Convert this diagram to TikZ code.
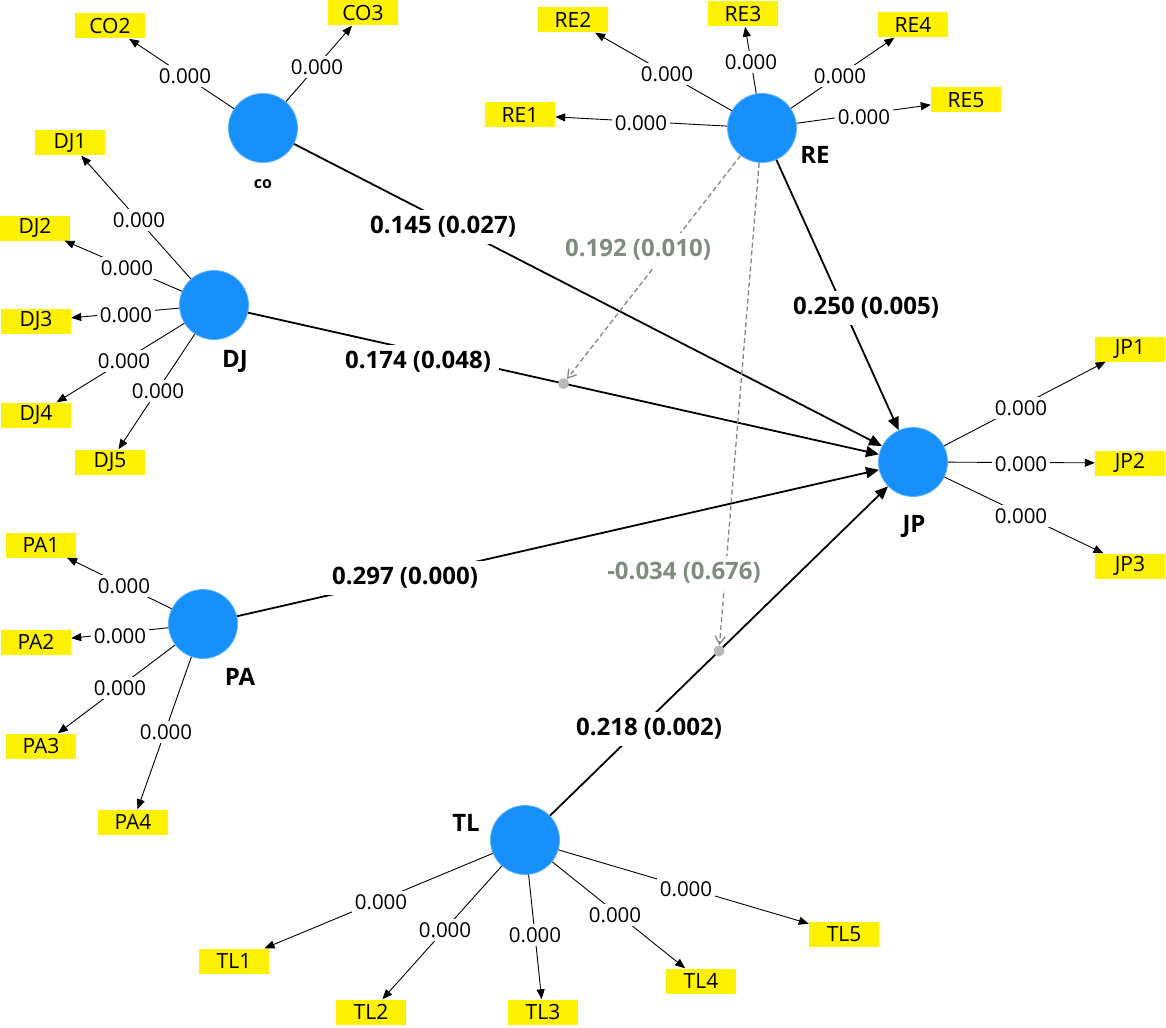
\documentclass[tikz,border=0pt]{standalone}
\usepackage{fontspec}
\setmainfont{Open Sans}
\usetikzlibrary{arrows.meta,calc}
\definecolor{lvblue}{RGB}{24,144,252}
\definecolor{lvedge}{RGB}{95,178,255}
\definecolor{indyel}{RGB}{255,242,0}
\definecolor{modgray}{RGB}{127,140,127}
\definecolor{dashgray}{RGB}{135,135,135}
\definecolor{dotgray}{RGB}{185,185,185}
\begin{document}
\begin{tikzpicture}[x=1pt,y=-1pt,
 lv/.style={circle,fill=lvblue,draw=lvedge,line width=0.8pt,minimum size=69pt,inner sep=0pt},
 ind/.style={fill=indyel,minimum width=70pt,minimum height=25pt,inner sep=0pt,font=\fontsize{21}{21}\selectfont},
 lvname/.style={font=\fontsize{24}{24}\selectfont\bfseries},
 load/.style={draw=black,line width=0.9pt,-{Triangle[length=10pt,width=8pt]}},
 loadlab/.style={fill=white,inner sep=3pt,font=\fontsize{20.5}{21}\selectfont},
 pathline/.style={draw=black,line width=1.8pt,-{Triangle[length=13pt,width=11pt]}},
 pathlab/.style={fill=white,inner xsep=8pt,inner ysep=6pt,font=\fontsize{24}{24}\selectfont\bfseries},
 modline/.style={draw=dashgray,line width=1.3pt,dash pattern=on 5pt off 3pt,-{Straight Barb[length=8pt,width=10pt]}},
 modlab/.style={pathlab,text=modgray},
 moddot/.style={circle,fill=dotgray,minimum size=11pt,inner sep=0pt}
]
\fill[white] (0,0) rectangle (1166,1027);
\useasboundingbox (0,0) rectangle (1166,1027);

% latent variables
\node[lv] (CO) at (263,128) {};
\node[lv] (RE) at (762,128) {};
\node[lv] (DJ) at (214,305) {};
\node[lv] (JP) at (913,462) {};
\node[lv] (PA) at (203,624) {};
\node[lv] (TL) at (525,840) {};

\node[font=\fontsize{16}{16}\selectfont\bfseries] (nCO) at (263,184) {co};
\node[lvname] (nRE) at (815,155) {RE};
\node[lvname] (nDJ) at (235,361) {DJ};
\node[lvname] (nPA) at (240,677) {PA};
\node[lvname] (nTL) at (466,823) {TL};
\node[lvname] (nJP) at (914,526) {JP};

% indicators
\node[ind] (CO2) at (110,26) {CO2};
\node[ind] (CO3) at (363,13) {CO3};
\node[ind] (RE1) at (520,115) {RE1};
\node[ind] (RE2) at (573,20) {RE2};
\node[ind] (RE3) at (743,14) {RE3};
\node[ind] (RE4) at (913,25) {RE4};
\node[ind] (RE5) at (966,100) {RE5};
\node[ind] (DJ1) at (70,143) {DJ1};
\node[ind] (DJ2) at (35,228) {DJ2};
\node[ind] (DJ3) at (36,321) {DJ3};
\node[ind] (DJ4) at (36,415) {DJ4};
\node[ind] (DJ5) at (110,462) {DJ5};
\node[ind] (JP1) at (1130,349) {JP1};
\node[ind] (JP2) at (1130,463) {JP2};
\node[ind] (JP3) at (1130,566) {JP3};
\node[ind] (PA1) at (41,545) {PA1};
\node[ind] (PA2) at (36,642) {PA2};
\node[ind] (PA3) at (41,746) {PA3};
\node[ind] (PA4) at (133,822) {PA4};
\node[ind] (TL1) at (234,961) {TL1};
\node[ind] (TL2) at (371,1012) {TL2};
\node[ind] (TL3) at (543,1012) {TL3};
\node[ind] (TL4) at (701,981) {TL4};
\node[ind] (TL5) at (844,934) {TL5};

% loadings
\foreach \a/\b in {CO/CO2,CO/CO3,RE/RE1,RE/RE2,RE/RE3,RE/RE4,RE/RE5,
  DJ/DJ1,DJ/DJ2,DJ/DJ3,DJ/DJ4,DJ/DJ5,JP/JP1,JP/JP2,JP/JP3,
  PA/PA1,PA/PA2,PA/PA3,PA/PA4,TL/TL1,TL/TL2,TL/TL3,TL/TL4,TL/TL5}
  \draw[load] (\a) -- (\b);

% structural paths
\draw[pathline] (CO) -- (JP);
\draw[pathline] (DJ) -- (JP);
\draw[pathline] (PA) -- (JP);
\draw[pathline] (RE) -- (JP);
\draw[pathline] (TL) -- (JP);

% moderation points
\node[moddot] (m1) at ($(DJ)!0.5!(JP)$) {};
\node[moddot] (m2) at ($(TL)!0.5!(JP)$) {};
\draw[modline] (RE) -- (m1);
\draw[modline] (RE) -- (m2);

% loading labels
\foreach \p in {(185,76),(317,67),(641,123),(667,74),(751,62),(840,76),(864,117),
  (139,220),(127,268),(126,315),(124,361),(158,391),
  (1021,408),(1021,464),(1021,516),
  (124,586),(120,636),(120,688),(166,732),
  (381,902),(445,930),(535,935),(615,915),(686,889)}
  \node[loadlab] at \p {0.000};

% path labels
\node[pathlab] (l145) at (443,227) {0.145 (0.027)};
\node[pathlab] (l174) at (418,362) {0.174 (0.048)};
\node[pathlab] (l297) at (405,578) {0.297 (0.000)};
\node[pathlab] (l218) at (649,729) {0.218 (0.002)};
\node[pathlab] (l250) at (866,308) {0.250 (0.005)};
\node[modlab] (l192) at (638,250) {0.192 (0.010)};
\node[modlab] (l034) at (684,573) {-0.034 (0.676)};
\end{tikzpicture}
\end{document}
